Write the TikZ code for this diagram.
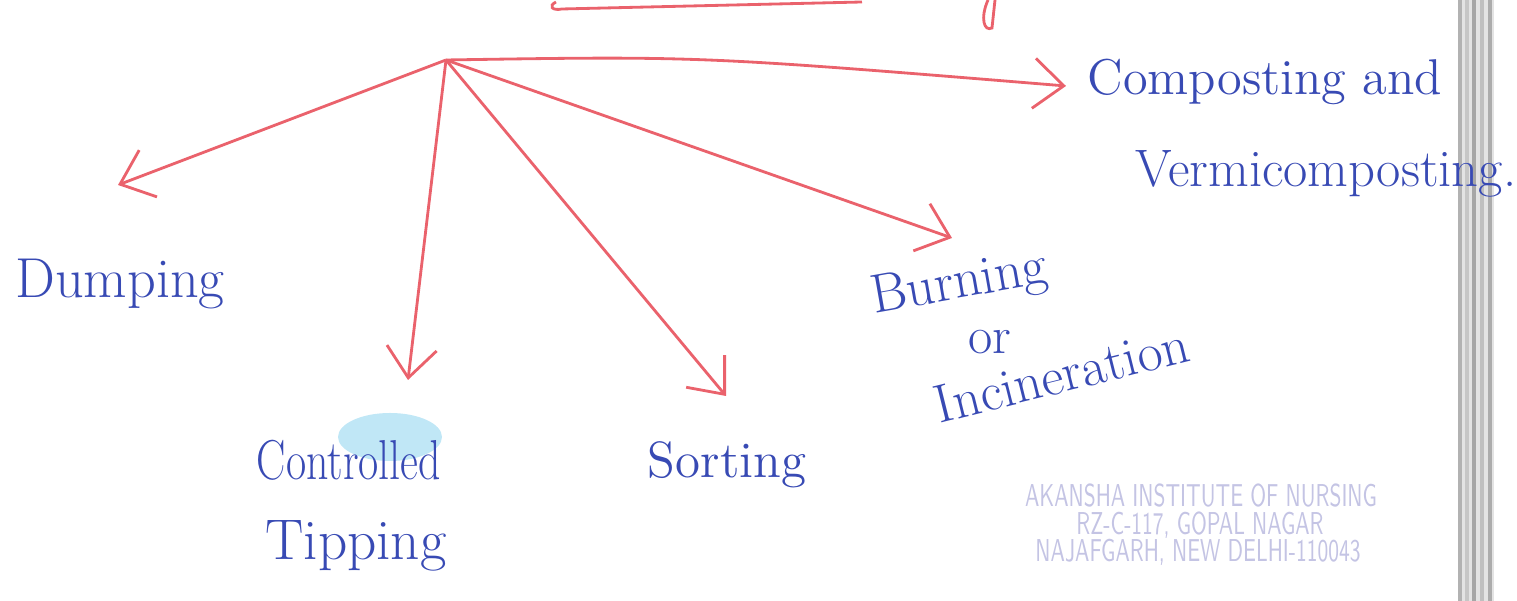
\documentclass[tikz,border=0pt]{standalone}
\usetikzlibrary{arrows.meta,positioning}
\definecolor{penred}{RGB}{234,98,108}
\definecolor{penblue}{RGB}{56,74,180}
\definecolor{stampink}{RGB}{196,196,228}
\definecolor{hilite}{RGB}{150,215,240}
\begin{document}
\begin{tikzpicture}[x=0.01cm, y=-0.01cm,
    arrowline/.style={draw=penred, line width=0.8pt, -{Straight Barb[length=3mm,width=5mm]}},
    hand/.style={text=penblue, font=\fontsize{#1}{#1}\selectfont, inner sep=0pt, anchor=base},
    hand/.default=16,
    stamp/.style={text=stampink, font=\sffamily\fontsize{9}{9}\selectfont, xscale=0.66, inner sep=0pt, anchor=base}]
  \useasboundingbox (0,0) rectangle (1517,601);
  % scanner edge on the right
  \fill[gray!22] (1458,0) rectangle (1494,601);
  \foreach \x/\c in {1460/gray!60, 1467/gray!45, 1474/gray!70, 1482/gray!50, 1490/gray!65}
    \draw[\c, line width=1.1pt] (\x,0) -- (\x,601);
  % cut-off heading above
  \draw[penred, line width=0.8pt] (556,2) .. controls (548,6) and (552,11) .. (562,9) -- (862,2);
  \draw[penred, line width=0.8pt] (988,0) .. controls (980,18) and (984,32) .. (992,28) -- (995,0);
  % hub and arrow ends
  \coordinate (hub) at (446,60);
  \coordinate (dumpend) at (118,185);
  \coordinate (tipend) at (408,380);
  \coordinate (sortend) at (726,396);
  \coordinate (burnend) at (952,238);
  \coordinate (compend) at (1066,86);
  \draw[arrowline] (hub) -- (dumpend);
  \draw[arrowline] (hub) -- (tipend);
  \draw[arrowline] (hub) -- (sortend);
  \draw[arrowline] (hub) -- (burnend);
  \draw[arrowline] (hub) .. controls (700,56) .. (compend);
  % labels
  \node[hand=16] (dump) at (120,298) {Dumping};
  \fill[hilite, opacity=0.6] (390,437) ellipse [x radius=52, y radius=24];
  \node[hand=16, xscale=0.78] (ctrl) at (349,480) {Controlled};
  \node[hand=16.3] (tipp) at (356,560) {Tipping};
  \node[hand=14.5] (sort) at (727,478) {Sorting};
  \node[hand=15.6, rotate=10] (burn) at (962,298) {Burning};
  \node[hand=15] (orr) at (990,354) {or};
  \node[hand=15.4, rotate=14] (incin) at (1066,392) {Incineration};
  \node[hand=14.3] (comp) at (1265,95) {Composting and};
  \node[hand=15] (verm) at (1326,187) {Vermicomposting.};
  % stamp
  \node[stamp] (stampa) at (1201,507) {AKANSHA INSTITUTE OF NURSING};
  \node[stamp] (stampb) at (1200,535) {RZ-C-117, GOPAL NAGAR};
  \node[stamp] (stampc) at (1198,562) {NAJAFGARH, NEW DELHI-110043};
\end{tikzpicture}
\end{document}
